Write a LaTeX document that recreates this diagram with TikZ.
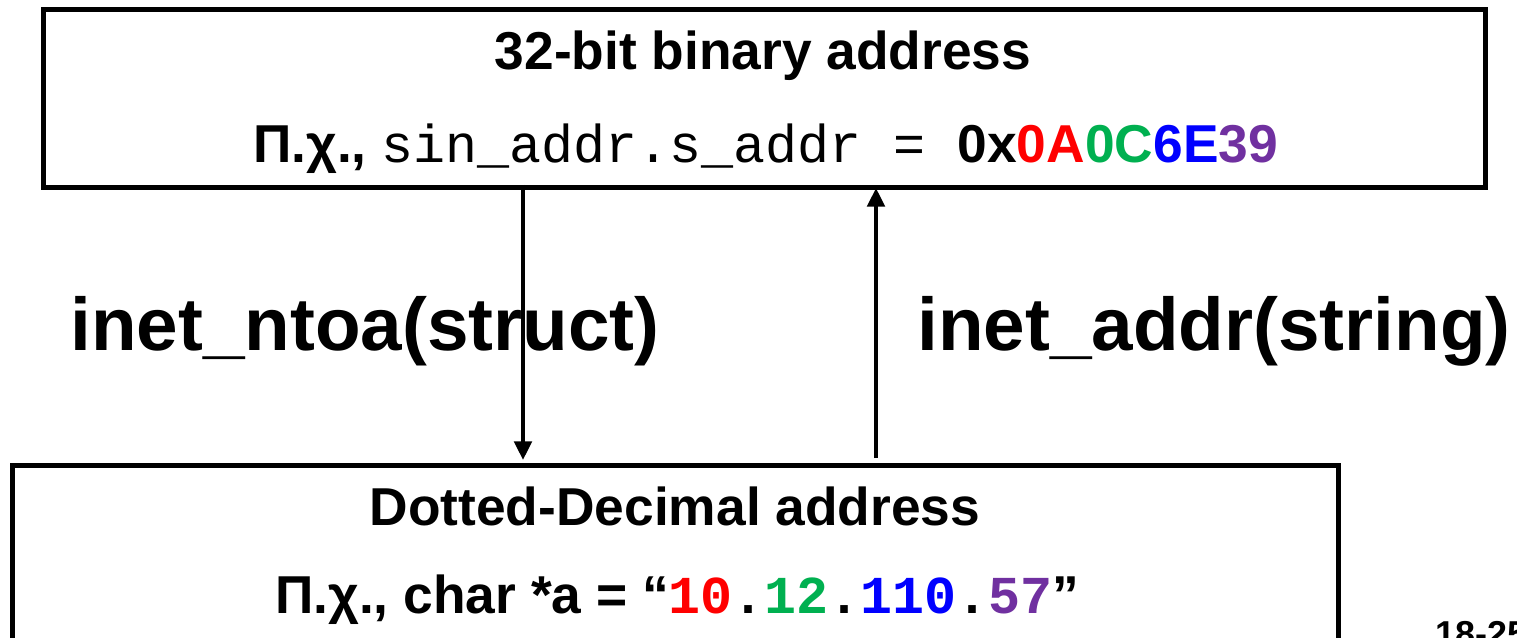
\documentclass[tikz,border=0pt]{standalone}
\usepackage{fontspec}
\setmainfont{Liberation Sans}
\newfontfamily\monof{Liberation Mono}
\usetikzlibrary{arrows.meta}
\definecolor{cred}{RGB}{255,0,0}
\definecolor{cgreen}{RGB}{0,176,80}
\definecolor{cblue}{RGB}{0,0,255}
\definecolor{cpurple}{RGB}{112,48,160}
\tikzset{
  box/.style={draw=black, line width=3.75pt, inner sep=0pt},
  lbl/.style={inner sep=0pt, font=\fontsize{40}{48}\selectfont\bfseries},
  big/.style={inner sep=0pt, font=\fontsize{56}{66}\selectfont\bfseries},
  arr/.style={line width=3pt, -{Triangle[length=14pt,width=13pt]}},
}
\begin{document}
\begin{tikzpicture}[x=0.75pt,y=-0.75pt]
\useasboundingbox (0,0) rectangle (1517,638);
\clip (0,0) rectangle (1517,638);
\fill[white] (0,0) rectangle (1517,638);
% boxes
\node[box, minimum width=1081.5pt, minimum height=133.5pt] (bin) at (764,99) {};
\node[box, minimum width=994.5pt, minimum height=160.5pt] (dec) at (675,572) {};
% texts top
\node[lbl, anchor=base] (bint) at (763,70) {32-bit binary address};
\node[lbl, anchor=base west] (binex) at (253,163) {П.χ., {\monof\mdseries sin\_addr.s\_addr = }0x\textcolor{cred}{0A}\textcolor{cgreen}{0C}\textcolor{cblue}{6E}\textcolor{cpurple}{39}};
% texts bottom
\node[lbl, anchor=base] (dect) at (675,525) {Dotted-Decimal address};
\node[lbl, anchor=base west] (decex) at (275,613) {П.χ., char *a = “{\monof\bfseries\textcolor{cred}{10}.\textcolor{cgreen}{12}.\textcolor{cblue}{110}.\textcolor{cpurple}{57}}”};
% function labels
\node[big, anchor=base west] (ntoa) at (70,350) {inet\_ntoa(struct)};
\node[big, anchor=base west] (addr) at (917,350) {inet\_addr(string)};
% arrows
\coordinate (d1) at (523,185);
\coordinate (d2) at (523,460);
\coordinate (u1) at (876,458);
\coordinate (u2) at (876,188);
\draw[arr] (d1) -- (d2);
\draw[arr] (u1) -- (u2);
% page number (cut off at the page edge, as in the reference)
\node[inner sep=0pt, anchor=base west, font=\fontsize{27}{30}\selectfont\bfseries] (pg) at (1435,646) {18-25};
\end{tikzpicture}
\end{document}
